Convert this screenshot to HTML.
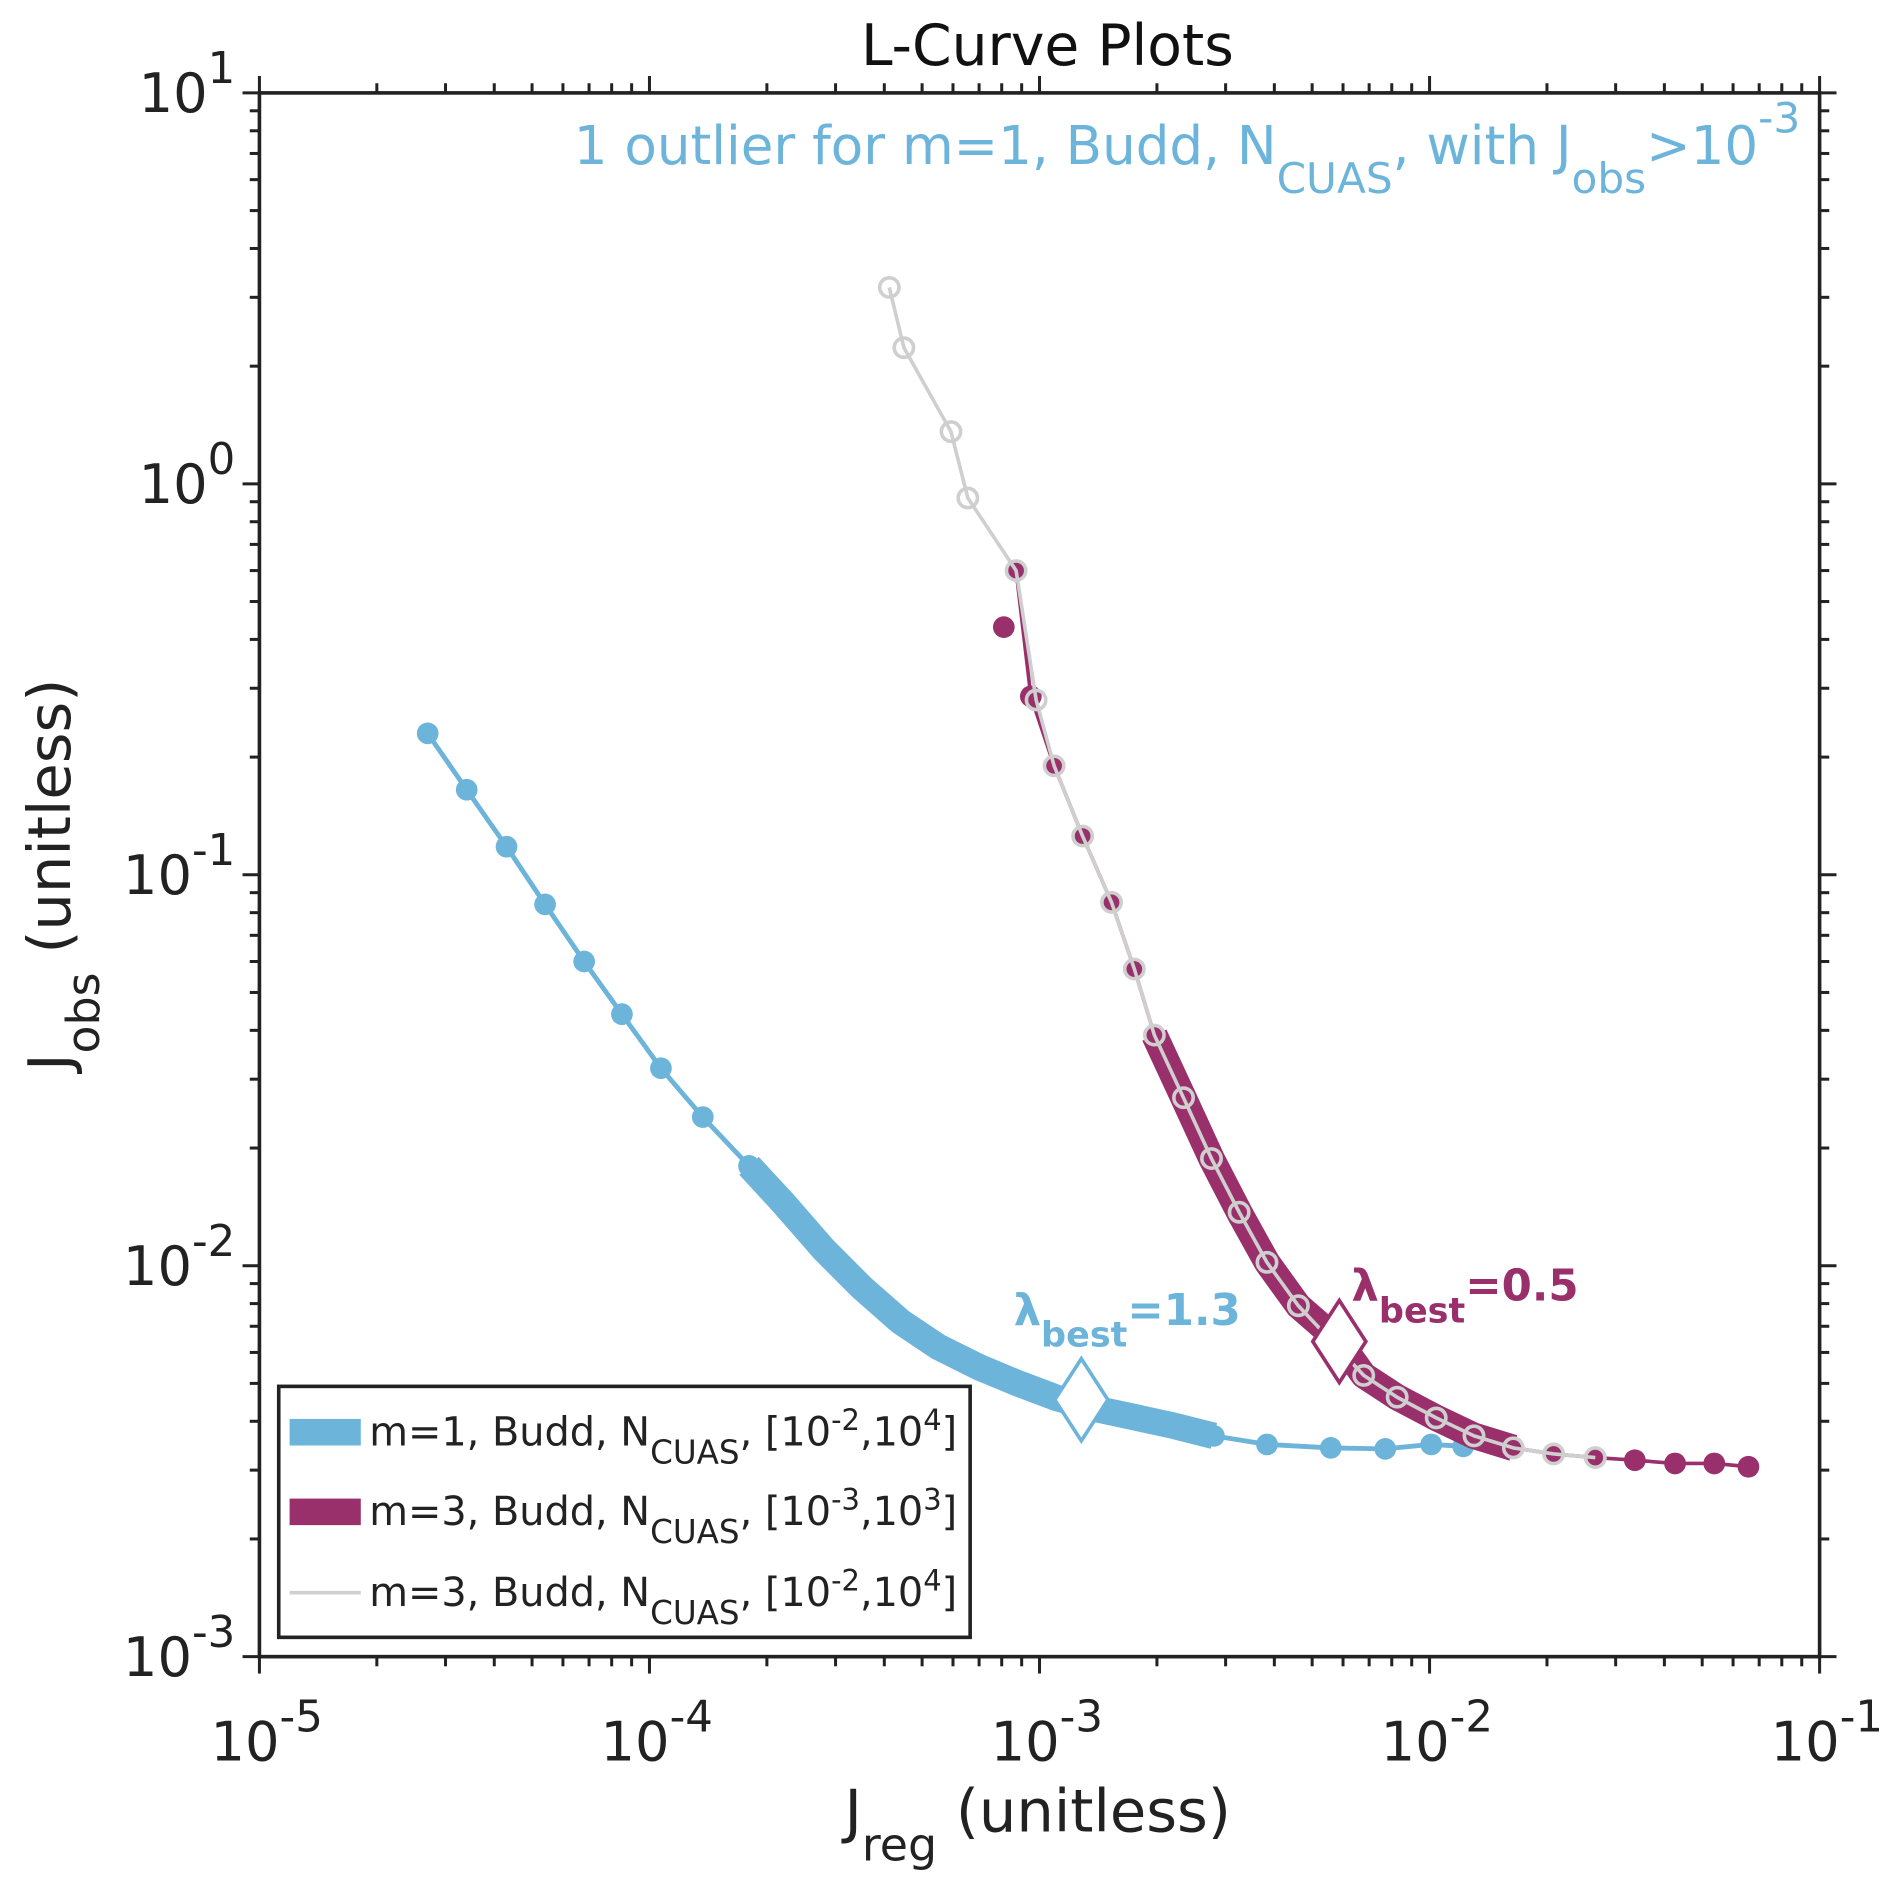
<!DOCTYPE html>
<html><head><meta charset="utf-8"><style>
html,body{margin:0;padding:0;background:#fff}
svg{display:block}
text{font-family:"DejaVu Sans","Liberation Sans",sans-serif}
</style></head><body>
<svg id="chart" width="1892" height="1890" viewBox="0 0 1568 1566.4" preserveAspectRatio="none" xmlns="http://www.w3.org/2000/svg">
<rect x="0" y="0" width="1568" height="1567" fill="#fff"/>
<g id="plot"></g>
<text x="868" y="54" font-size="47" text-anchor="middle" fill="#111">L-Curve Plots</text>
<text x="1492" y="136" font-size="44" text-anchor="end" fill="#6db4db">1 outlier for m=1, Budd, N<tspan font-size="35" dy="24">CUAS</tspan><tspan dy="-24">, with J</tspan><tspan font-size="35" dy="24">obs</tspan><tspan dy="-24">&gt;10</tspan><tspan font-size="35" dy="-26">-3</tspan></text>
<text transform="translate(58,725) rotate(-90)" font-size="49" text-anchor="middle" fill="#222">J<tspan font-size="38" dy="24">obs</tspan><tspan dy="-24"> (unitless)</tspan></text>
<text x="860" y="1518" font-size="49" text-anchor="middle" fill="#222">J<tspan font-size="38" dy="24">reg</tspan><tspan dy="-24"> (unitless)</tspan></text>
<text x="840" y="1098" font-size="36" font-weight="bold" fill="#6db4db">λ<tspan font-size="29" dy="18">best</tspan><tspan dy="-18">=1.3</tspan></text>
<text x="1120" y="1078" font-size="36" font-weight="bold" fill="#99306b">λ<tspan font-size="29" dy="18">best</tspan><tspan dy="-18">=0.5</tspan></text>
<g>
<rect x="231" y="1149" width="573" height="208" fill="#fff" stroke="#222" stroke-width="3"/>
<rect x="240" y="1176" width="59" height="22" fill="#6db4db"/>
<text x="306" y="1198" font-size="33" fill="#222">m=1, Budd, N<tspan font-size="27" dy="15">CUAS</tspan><tspan dy="-15">, [10</tspan><tspan font-size="24" dy="-13">-2</tspan><tspan dy="13">,10</tspan><tspan font-size="24" dy="-13">4</tspan><tspan dy="13">]</tspan></text>
<rect x="240" y="1242" width="59" height="22" fill="#99306b"/>
<text x="306" y="1264" font-size="33" fill="#222">m=3, Budd, N<tspan font-size="27" dy="15">CUAS</tspan><tspan dy="-15">, [10</tspan><tspan font-size="24" dy="-13">-3</tspan><tspan dy="13">,10</tspan><tspan font-size="24" dy="-13">3</tspan><tspan dy="13">]</tspan></text>
<line x1="240" y1="1320" x2="299" y2="1320" stroke="#cfcfcf" stroke-width="3"/>
<text x="306" y="1331" font-size="33" fill="#222">m=3, Budd, N<tspan font-size="27" dy="15">CUAS</tspan><tspan dy="-15">, [10</tspan><tspan font-size="24" dy="-13">-2</tspan><tspan dy="13">,10</tspan><tspan font-size="24" dy="-13">4</tspan><tspan dy="13">]</tspan></text>
</g>
</svg>
<script>
const xDecades=[-5,-4,-3,-2,-1];
const yDecades=[-3,-2,-1,0,1];
const blueX=[2.7e-5,3.4e-5,4.3e-5,5.4e-5,6.8e-5,8.5e-5,1.07e-4,1.37e-4,1.8e-4,2.2e-4,2.8e-4,3.5e-4,4.4e-4,5.5e-4,7e-4,8.8e-4,1.1e-3,1.4e-3,1.75e-3,2.2e-3,2.8e-3,3.83e-3,5.58e-3,7.7e-3,1.01e-2,1.22e-2];
const blueY=[0.23,0.165,0.118,0.084,0.060,0.044,0.032,0.024,0.018,0.0145,0.011,0.0088,0.0072,0.0062,0.0055,0.0050,0.0046,0.0043,0.0041,0.0039,0.00367,0.00349,0.00342,0.0034,0.00349,0.00345];
const blueBandRange=[1.8e-4,2.9e-3];
const grayX=[4.12e-4,4.49e-4,5.93e-4,6.55e-4,8.71e-4,9.8e-4,1.09e-3,1.29e-3,1.53e-3,1.75e-3,1.97e-3,2.34e-3,2.76e-3,3.25e-3,3.83e-3,4.61e-3,6.78e-3,8.26e-3,1.04e-2,1.30e-2,1.64e-2,2.08e-2,2.66e-2];
const grayY=[3.18,2.23,1.36,0.92,0.60,0.28,0.19,0.1256,0.085,0.0574,0.0389,0.0269,0.0188,0.0137,0.0102,0.0079,0.00524,0.00461,0.00408,0.00367,0.00342,0.0033,0.00323];
const purpleX=[8.71e-4,8.1e-4,9.5e-4,1.09e-3,1.29e-3,1.53e-3,1.75e-3,1.97e-3,2.34e-3,2.76e-3,3.25e-3,3.83e-3,4.61e-3,5.87e-3,6.78e-3,8.26e-3,1.04e-2,1.30e-2,1.64e-2,2.08e-2,2.66e-2,3.36e-2,4.26e-2,5.37e-2,6.57e-2];
const purpleY=[0.60,0.43,0.286,0.19,0.1256,0.085,0.0574,0.0389,0.0269,0.0188,0.0137,0.0102,0.0079,0.0064,0.00524,0.00461,0.00408,0.00367,0.00342,0.0033,0.00323,0.00318,0.00312,0.00312,0.00306];
const purpleBandRange=[1.95e-3,1.7e-2];
const bestX=[1.28e-3,5.87e-3];
const bestY=[0.00454,0.0064];

const L=215,R=1508,T=77,B=1373;
function sx(v){return L+(Math.log10(v)+5)/4*(R-L);}
function sy(v){return T+(1-Math.log10(v))/4*(B-T);}
const NS="http://www.w3.org/2000/svg";
const g=document.getElementById('plot');
function mk(tag,attrs,parent){const e=document.createElementNS(NS,tag);for(const k in attrs)e.setAttribute(k,attrs[k]);(parent||g).appendChild(e);return e;}
function pathOf(xs,ys,lo,hi,mono){let d='';let first=true;let px=-Infinity;for(let i=0;i<xs.length;i++){if(lo!==undefined&&lo!==null&&(xs[i]<lo||xs[i]>hi))continue;if(mono&&xs[i]<=px)continue;px=xs[i];d+=(first?'M':'L')+sx(xs[i]).toFixed(1)+','+sy(ys[i]).toFixed(1);first=false;}return d;}
// blue
let p=mk('path',{d:pathOf(blueX,blueY),fill:'none',stroke:'#6db4db','stroke-width':4,'stroke-linejoin':'round'});

p=mk('path',{d:pathOf(blueX,blueY,blueBandRange[0],blueBandRange[1]),fill:'none',stroke:'#6db4db','stroke-width':22,'stroke-linejoin':'round'});

blueX.forEach((x,i)=>{const c=mk('circle',{cx:sx(x),cy:sy(blueY[i]),r:9,fill:'#6db4db'});
});
// purple
p=mk('path',{d:pathOf(purpleX,purpleY,null,null,true),fill:'none',stroke:'#99306b','stroke-width':3,'stroke-linejoin':'round'});

p=mk('path',{d:pathOf(purpleX,purpleY,purpleBandRange[0],purpleBandRange[1],true),fill:'none',stroke:'#99306b','stroke-width':22,'stroke-linejoin':'round'});

purpleX.forEach((x,i)=>{const c=mk('circle',{cx:sx(x),cy:sy(purpleY[i]),r:9,fill:'#99306b'});
});
// gray
p=mk('path',{d:pathOf(grayX,grayY),fill:'none',stroke:'#cfcfcf','stroke-width':3,'stroke-linejoin':'round'});

grayX.forEach((x,i)=>{const c=mk('circle',{cx:sx(x),cy:sy(grayY[i]),r:8,fill:'none',stroke:'#cfcfcf','stroke-width':3});
});
// diamonds
const dcol=['#6db4db','#99306b'];
bestX.forEach((x,i)=>{const cx=sx(x),cy=sy(bestY[i]);
const d=mk('polygon',{points:`${cx},${cy-34} ${cx+22},${cy} ${cx},${cy+34} ${cx-22},${cy}`,fill:'#fff',stroke:dcol[i],'stroke-width':3});
});
// axes frame
const ax=mk('rect',{x:L,y:T,width:R-L,height:B-T,fill:'none',stroke:'#222','stroke-width':3});

// ticks
const ticks=mk('g',{stroke:'#222','stroke-width':2.5});

for(let d=-5;d<=-1;d++){for(let m=1;m<=9;m++){if(d===-1&&m>1)break;const v=m*Math.pow(10,d);const x=sx(v);const len=m===1?14:8;
mk('line',{x1:x,y1:B,x2:x,y2:B+len},ticks);mk('line',{x1:x,y1:T,x2:x,y2:T-len},ticks);}}
for(let d=-3;d<=1;d++){for(let m=1;m<=9;m++){if(d===1&&m>1)break;const v=m*Math.pow(10,d);const y=sy(v);const len=m===1?14:8;
mk('line',{x1:L,y1:y,x2:L-len,y2:y},ticks);mk('line',{x1:R,y1:y,x2:R+len,y2:y},ticks);}}
// tick labels
xDecades.forEach(d=>{const t=mk('text',{x:sx(Math.pow(10,d))+6,y:B+86,'font-size':45,'text-anchor':'middle',fill:'#222'});

t.innerHTML='10<tspan font-size="36" dy="-24">'+d+'</tspan>';});
yDecades.forEach(d=>{const t=mk('text',{x:L-20,y:sy(Math.pow(10,d))+16,'font-size':45,'text-anchor':'end',fill:'#222'});

t.innerHTML='10<tspan font-size="36" dy="-24">'+d+'</tspan>';});
</script>
</body></html>
